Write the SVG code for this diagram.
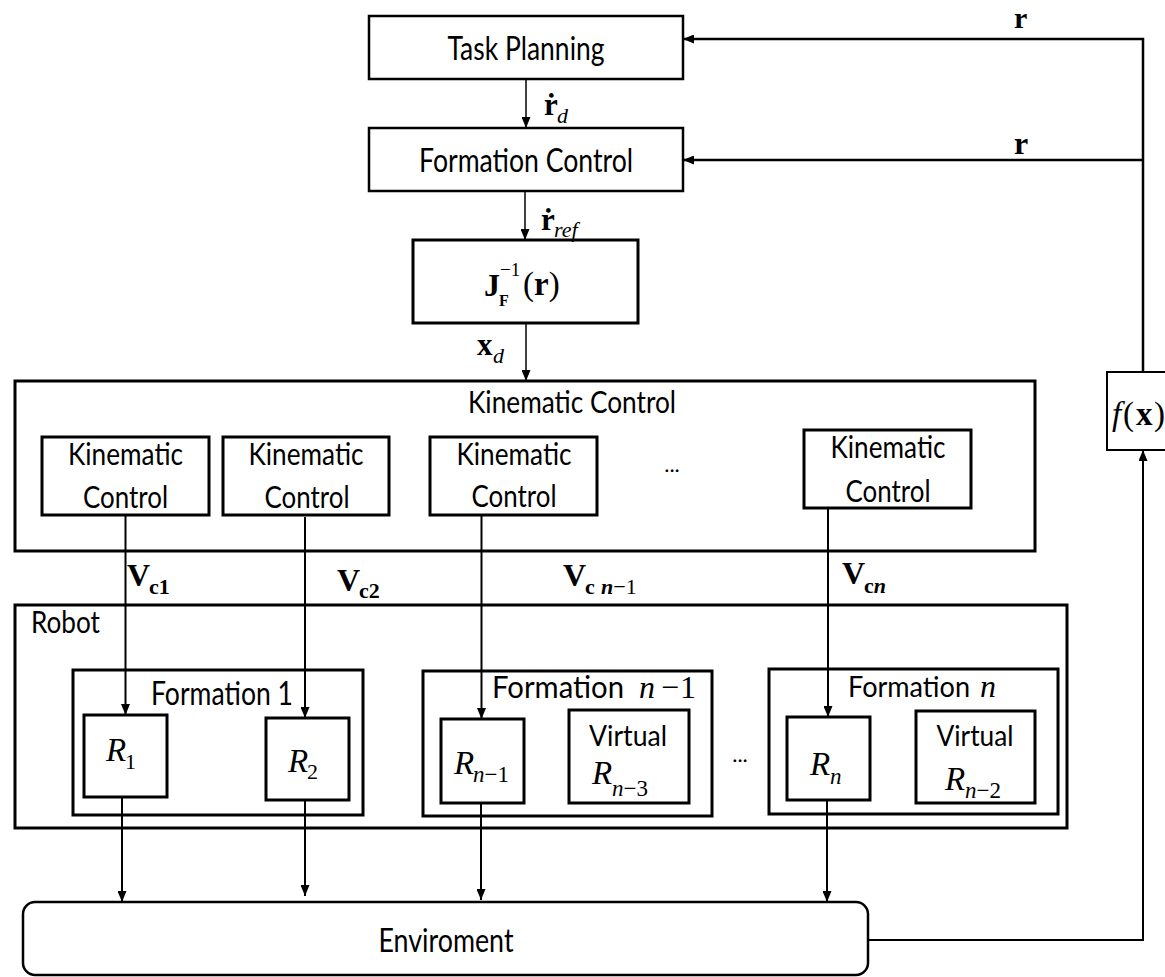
<svg xmlns="http://www.w3.org/2000/svg" width="1165" height="977" viewBox="0 0 1165 977">
<style>
.box{fill:#fff;stroke:#000;stroke-width:3}
.thin{fill:#fff;stroke:#000;stroke-width:2}
.t{font-family:Lato,"Open Sans","DejaVu Sans",sans-serif;fill:#000}
.m{font-family:"Liberation Serif","DejaVu Serif",serif;fill:#000}
.b{font-weight:bold}
.i{font-style:italic}
.ln{fill:none;stroke:#000;stroke-width:2}
</style>
<defs>
<marker id="ah" markerUnits="userSpaceOnUse" markerWidth="11" markerHeight="9" refX="11" refY="4.5" orient="auto">
<path d="M0,0 L11,4.5 L0,9 z" fill="#000"/>
</marker>
</defs>
<rect width="1165" height="977" fill="#fff"/>

<g id="task-planning">
<rect class="box" x="369" y="16" width="314" height="63" style="stroke-width:2.5"/>
<text class="t" x="526" y="60" font-size="33" text-anchor="middle" textLength="157" lengthAdjust="spacingAndGlyphs">Task Planning</text>
</g>
<g id="formation-control">
<rect class="box" x="369" y="128" width="314" height="63" style="stroke-width:2.5"/>
<text class="t" x="526" y="172" font-size="33" text-anchor="middle" textLength="214" lengthAdjust="spacingAndGlyphs">Formation Control</text>
</g>
<g id="jacobian">
<rect class="box" x="413" y="240" width="225" height="83"/>
<text class="m" font-size="32"><tspan x="484" y="296" class="b">J</tspan><tspan x="499" y="306" class="b" font-size="16">F</tspan><tspan x="500" y="276" font-size="19">−1</tspan><tspan x="523" y="295" font-size="33">(</tspan><tspan class="b" font-size="33">r</tspan><tspan font-size="33">)</tspan></text>
</g>

<g id="kinematic-control">
<rect class="box" x="15" y="381" width="1020" height="170"/>
<text class="t" x="572" y="413" font-size="30" text-anchor="middle" textLength="208" lengthAdjust="spacingAndGlyphs">Kinematic Control</text>
</g>
<g id="kc1">
<rect class="box" x="42" y="437" width="167" height="78"/>
<text class="t" x="125.5" y="465" font-size="30" text-anchor="middle" textLength="115" lengthAdjust="spacingAndGlyphs">Kinematic</text>
<text class="t" x="125.5" y="508" font-size="30" text-anchor="middle" textLength="85" lengthAdjust="spacingAndGlyphs">Control</text>
</g>
<g id="kc2">
<rect class="box" x="223" y="437" width="166" height="78"/>
<text class="t" x="306" y="465" font-size="30" text-anchor="middle" textLength="115" lengthAdjust="spacingAndGlyphs">Kinematic</text>
<text class="t" x="307" y="508" font-size="30" text-anchor="middle" textLength="85" lengthAdjust="spacingAndGlyphs">Control</text>
</g>
<g id="kc3">
<rect class="box" x="430" y="437" width="167" height="78"/>
<text class="t" x="514" y="465" font-size="30" text-anchor="middle" textLength="115" lengthAdjust="spacingAndGlyphs">Kinematic</text>
<text class="t" x="514" y="507" font-size="30" text-anchor="middle" textLength="85" lengthAdjust="spacingAndGlyphs">Control</text>
</g>
<g id="kc-dots">
<text class="t" x="672" y="472" font-size="22" text-anchor="middle">...</text>
</g>
<g id="kc4">
<rect class="box" x="804" y="430" width="167" height="78"/>
<text class="t" x="888" y="458" font-size="30" text-anchor="middle" textLength="115" lengthAdjust="spacingAndGlyphs">Kinematic</text>
<text class="t" x="888" y="502" font-size="30" text-anchor="middle" textLength="85" lengthAdjust="spacingAndGlyphs">Control</text>
</g>

<g id="robot">
<rect class="box" x="15" y="605" width="1052" height="223"/>
<text class="t" x="31" y="633" font-size="30" textLength="69" lengthAdjust="spacingAndGlyphs">Robot</text>
</g>
<g id="formation-1">
<rect class="box" x="73" y="670" width="290" height="145"/>
<text class="t" x="222" y="705" font-size="32" text-anchor="middle" textLength="142" lengthAdjust="spacingAndGlyphs">Formation 1</text>
</g>
<g id="r1">
<rect class="box" x="84" y="715" width="83" height="82"/>
<text class="m i" font-size="33"><tspan x="106" y="761">R</tspan><tspan x="125" y="769" font-size="22" font-style="normal">1</tspan></text>
</g>
<g id="r2">
<rect class="box" x="266" y="718" width="83" height="82"/>
<text class="m i" font-size="33"><tspan x="288" y="772">R</tspan><tspan x="307" y="779" font-size="22" font-style="normal">2</tspan></text>
</g>
<g id="formation-n-1">
<rect class="box" x="423" y="671" width="289" height="145"/>
<text y="698"><tspan class="t" x="492" font-size="31" textLength="132" lengthAdjust="spacingAndGlyphs">Formation</tspan><tspan class="m i" x="639" font-size="32">n</tspan><tspan class="m" x="661" font-size="32">−</tspan><tspan class="m" x="680" font-size="32">1</tspan></text>
</g>
<g id="r-n-1">
<rect class="box" x="441" y="719" width="83" height="84"/>
<text class="m" font-size="33"><tspan x="454" y="774" class="i">R</tspan><tspan x="473" y="782" font-size="23" class="i">n</tspan><tspan font-size="23">−1</tspan></text>
</g>
<g id="virtual-n-3">
<rect class="box" x="569" y="710" width="120" height="93"/>
<text class="t" x="628" y="746" font-size="29" text-anchor="middle" textLength="78" lengthAdjust="spacingAndGlyphs">Virtual</text>
<text class="m" font-size="33"><tspan x="592" y="784" class="i">R</tspan><tspan x="612" y="796" font-size="23" class="i">n</tspan><tspan font-size="23">−3</tspan></text>
</g>
<g id="robot-dots">
<text class="t" x="740" y="762" font-size="22" text-anchor="middle">...</text>
</g>
<g id="formation-n">
<rect class="box" x="769" y="669" width="289" height="145"/>
<text y="697"><tspan class="t" x="848" font-size="28" textLength="122" lengthAdjust="spacingAndGlyphs">Formation</tspan><tspan class="m i" x="980" font-size="32">n</tspan></text>
</g>
<g id="r-n">
<rect class="box" x="787" y="717" width="83" height="83"/>
<text class="m i" font-size="33"><tspan x="810" y="775">R</tspan><tspan x="830" y="784" font-size="23">n</tspan></text>
</g>
<g id="virtual-n-2">
<rect class="box" x="916" y="711" width="119" height="92"/>
<text class="t" x="975" y="746" font-size="29" text-anchor="middle" textLength="77" lengthAdjust="spacingAndGlyphs">Virtual</text>
<text class="m" font-size="33"><tspan x="945" y="790" class="i">R</tspan><tspan x="965" y="798" font-size="23" class="i">n</tspan><tspan font-size="23">−2</tspan></text>
</g>

<g id="environment">
<rect class="box" x="23" y="902" width="845" height="73" rx="12" style="stroke-width:2.5"/>
<text class="t" x="446" y="952" font-size="32" text-anchor="middle" textLength="135" lengthAdjust="spacingAndGlyphs">Enviroment</text>
</g>
<g id="fx">
<rect class="thin" x="1107" y="372" width="70" height="78"/>
<text class="m" font-size="33"><tspan x="1112" y="425" class="i">f</tspan><tspan x="1123" y="425">(</tspan><tspan x="1136" y="425" class="b">x</tspan><tspan x="1154" y="425">)</tspan></text>
</g>

<g id="connectors">
<line class="ln" x1="526" y1="79" x2="526" y2="128" style="stroke-width:1.5" marker-end="url(#ah)"/>
<line class="ln" x1="525" y1="191" x2="525" y2="240" style="stroke-width:1.5" marker-end="url(#ah)"/>
<line class="ln" x1="526" y1="323" x2="526" y2="381" style="stroke-width:1.5" marker-end="url(#ah)"/>
<line class="ln" x1="125.5" y1="515" x2="125.5" y2="715" marker-end="url(#ah)"/>
<line class="ln" x1="305" y1="517" x2="305" y2="718" marker-end="url(#ah)"/>
<line class="ln" x1="481.5" y1="515" x2="481.5" y2="719" marker-end="url(#ah)"/>
<line class="ln" x1="828" y1="508" x2="828" y2="717" marker-end="url(#ah)"/>
<line class="ln" x1="122" y1="797" x2="122" y2="902" marker-end="url(#ah)"/>
<line class="ln" x1="305" y1="800" x2="305" y2="896" marker-end="url(#ah)"/>
<line class="ln" x1="481" y1="803" x2="481" y2="900" marker-end="url(#ah)"/>
<line class="ln" x1="827" y1="800" x2="827" y2="902" marker-end="url(#ah)"/>
<polyline class="ln" points="868,940 1143,940 1143,450" marker-end="url(#ah)"/>
<polyline class="ln" points="1143,372 1143,39 683,39" style="stroke-width:2.5" marker-end="url(#ah)"/>
<line class="ln" x1="1142" y1="160" x2="683" y2="160" style="stroke-width:2.5" marker-end="url(#ah)"/>
<text class="m" font-size="31"><tspan x="544" y="115" class="b">ṙ</tspan><tspan x="557" y="123" class="i" font-size="22">d</tspan></text>
<text class="m" font-size="31"><tspan x="541" y="230" class="b">ṙ</tspan><tspan x="554" y="237" class="i" font-size="22">ref</tspan></text>
<text class="m" font-size="31"><tspan x="477" y="355" class="b">x</tspan><tspan x="493" y="363" class="i" font-size="22">d</tspan></text>
<text class="m b" x="1014" y="28" font-size="30">r</text>
<text class="m b" x="1014" y="154" font-size="32">r</text>
<text class="m b" font-size="32"><tspan x="127" y="586">V</tspan><tspan x="149" y="594" font-size="22">c1</tspan></text>
<text class="m b" font-size="32"><tspan x="337" y="591">V</tspan><tspan x="359" y="598" font-size="22">c2</tspan></text>
<text class="m b" font-size="32"><tspan x="563" y="586">V</tspan><tspan x="585" y="594" font-size="22">c</tspan><tspan x="601" y="594" font-size="22" class="i">n</tspan><tspan font-size="22" font-weight="normal">−1</tspan></text>
<text class="m b" font-size="32"><tspan x="842" y="584">V</tspan><tspan x="864" y="593" font-size="22">c</tspan><tspan font-size="22" class="i">n</tspan></text>
</g>
</svg>
